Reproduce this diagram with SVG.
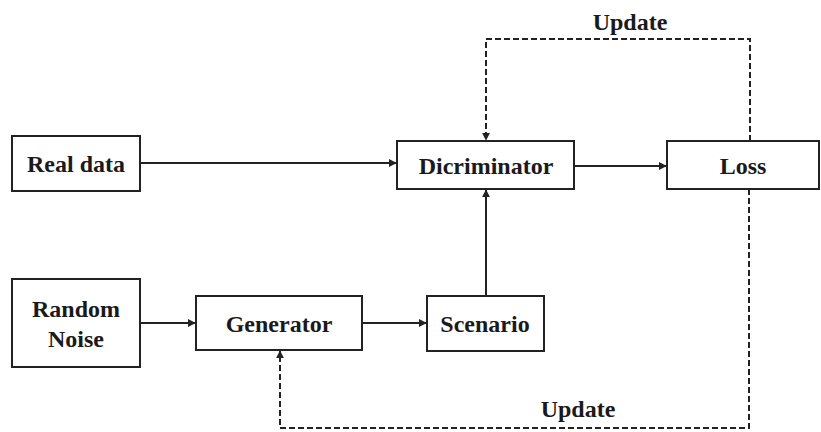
<svg xmlns="http://www.w3.org/2000/svg" width="821" height="432" viewBox="0 0 821 432">
  <style>
    .box { fill: #ffffff; stroke: #222222; stroke-width: 2; }
    .lbl { font-family: "Liberation Serif", "Times New Roman", Tinos, "DejaVu Serif", serif; font-weight: 700; font-size: 24px; fill: #1a1a1a; text-anchor: middle; }
    .wire { fill: none; stroke: #222222; stroke-width: 2; }
    .dash { stroke-dasharray: 6 3; }
  </style>
  <defs>
    <marker id="arrow" viewBox="0 0 10 10" refX="9" refY="5" markerWidth="4" markerHeight="4" orient="auto-start-reverse">
      <path d="M0,0 L10,5 L0,10 z" fill="#222222"/>
    </marker>
  </defs>
  <rect width="821" height="432" fill="#ffffff"/>

  <g id="connectors">
    <path class="wire" d="M140,163 H396" marker-end="url(#arrow)"/>
    <path class="wire" d="M574,166 H666" marker-end="url(#arrow)"/>
    <path class="wire" d="M140,323 H195" marker-end="url(#arrow)"/>
    <path class="wire" d="M362,323 H426" marker-end="url(#arrow)"/>
    <path class="wire" d="M486,296 V190" marker-end="url(#arrow)"/>
    <path class="wire dash" d="M750,141 V39 H486 V140" marker-end="url(#arrow)"/>
    <path class="wire dash" d="M749,189 V428 H280 V351" marker-end="url(#arrow)"/>
  </g>

  <g id="real-data">
    <rect class="box" x="12" y="136" width="128" height="55"/>
    <text class="lbl" x="76" y="172">Real data</text>
  </g>
  <g id="discriminator">
    <rect class="box" x="397" y="141" width="177" height="48"/>
    <text class="lbl" x="486" y="174">Dicriminator</text>
  </g>
  <g id="loss">
    <rect class="box" x="667" y="141" width="152" height="48"/>
    <text class="lbl" x="743" y="174">Loss</text>
  </g>
  <g id="random-noise">
    <rect class="box" x="12" y="279" width="128" height="88"/>
    <text class="lbl" x="76" y="317">Random</text>
    <text class="lbl" x="76" y="347">Noise</text>
  </g>
  <g id="generator">
    <rect class="box" x="196" y="296" width="166" height="54"/>
    <text class="lbl" x="279" y="332">Generator</text>
  </g>
  <g id="scenario">
    <rect class="box" x="427" y="296" width="117" height="55"/>
    <text class="lbl" x="485" y="332">Scenario</text>
  </g>

  <g id="labels">
    <text class="lbl" x="630" y="30">Update</text>
    <text class="lbl" x="578" y="417">Update</text>
  </g>
</svg>
